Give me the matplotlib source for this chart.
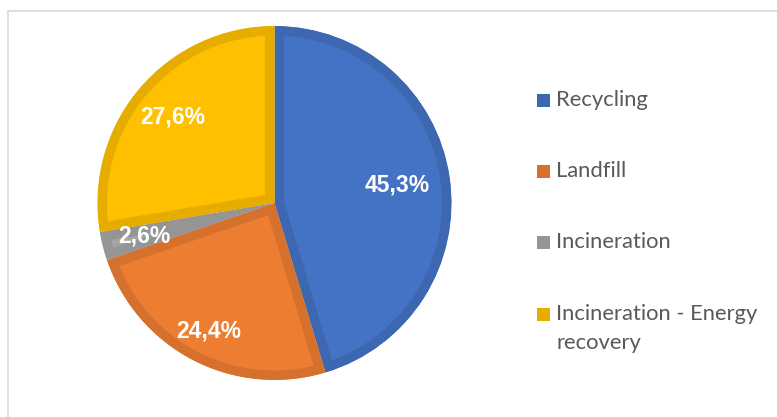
import matplotlib
matplotlib.use("Agg")
import matplotlib.pyplot as plt
from matplotlib.patches import Rectangle
import numpy as np

# waste treatment shares (%)
categories = ["Recycling", "Landfill", "Incineration", "Incineration - Energy\nrecovery"]
shares = [45.3, 24.4, 2.6, 27.6]

fill_colors = ["#4472C4", "#ED7D31", "#A5A5A5", "#FFC000"]
edge_colors = ["#3D67B0", "#D5712C", "#959595", "#E6AD00"]

W, H = 777, 417
fig = plt.figure(figsize=(W / 100, H / 100), dpi=100)
ax = fig.add_axes([0, 0, 1, 1])

cx, cy, r = 274.5, H - 203, 177
wedges, _ = ax.pie(shares, colors=fill_colors, startangle=90, counterclock=False,
                   radius=r, center=(cx, cy),
                   wedgeprops=dict(linewidth=13.7))
# darker inner border: stroke each wedge and clip it to itself
# (pie turns clipping off, so switch it back on)
for w, ec in zip(wedges, edge_colors):
    w.set_edgecolor(ec)
    w.set_clip_path(w)
    w.set_clip_on(True)

# percentage labels inside the slices
label_dist = [0.70, 0.81, 0.76, 0.75]
for w, v, d in zip(wedges, shares, label_dist):
    mid = np.deg2rad((w.theta1 + w.theta2) / 2)
    ax.text(cx + d * r * np.cos(mid), cy + d * r * np.sin(mid),
            f"{v:.1f}%".replace(".", ","), ha="center", va="center",
            color="white", fontsize=16.5, fontweight="bold",
            family="Liberation Sans")

# legend on the right
row_y = [100, 171, 242, 314]
for lab, ec, y in zip(categories, edge_colors, row_y):
    ax.add_patch(Rectangle((537, H - y - 7), 13, 13, facecolor=ec, edgecolor="none"))
    for j, line in enumerate(lab.split("\n")):
        ax.text(556, H - y - j * 29, line, ha="left", va="center",
                fontsize=15.8, color="#595959", family="Lato")

# chart area frame
ax.plot([7.5, 7.5, W + 5], [-5, H - 10.5, H - 10.5], color="#D9D9D9", lw=1.2,
        solid_joinstyle="miter")

ax.set_xlim(0, W)
ax.set_ylim(0, H)
ax.axis("off")

fig.savefig("out.png", dpi=100, facecolor="white")
